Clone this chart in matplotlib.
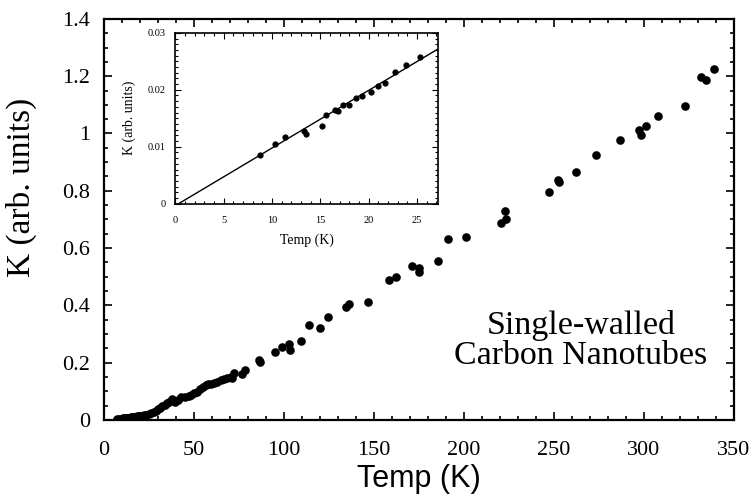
import matplotlib
matplotlib.use("Agg")
import matplotlib.pyplot as plt
from matplotlib.ticker import MultipleLocator

# main data: thermal conductivity vs temperature
temp = [7.5, 8.3, 9.5, 10.5, 11.1, 12.3, 13.0, 13.9, 15.0, 15.8, 16.7, 17.5,
        18.4, 19.4, 20.3, 21.2, 22.2, 23.5, 25.0, 26.3, 27.8, 29.0, 30.0, 31.2,
        32.4, 33.8, 35.2, 36.5, 38.0, 39.8, 41.5, 43.0, 45.0, 47.2, 48.5, 50.0,
        51.5, 53.7, 55.0, 56.5, 58.0, 59.3, 61.0, 63.0, 65.0, 66.7, 68.5, 70.4,
        71.3, 72.2, 76.9, 78.7,
        86.0, 86.5, 95.0, 99.0, 103.0, 103.5, 109.5, 114.0, 120.0, 124.6,
        134.8, 136.1, 146.9,
        158.5, 162.2, 171.0, 174.8, 175.2, 185.7, 191.3, 201.0, 220.6, 223.0,
        223.5, 247.4, 252.0, 253.0, 262.0, 273.3, 286.7, 297.4, 298.3, 301.0,
        308.0, 323.0, 331.5, 334.3, 339.0]
kappa = [0.003, 0.0035, 0.005, 0.0055, 0.0059, 0.007, 0.0075, 0.0084, 0.0095,
         0.010, 0.011, 0.012, 0.0125, 0.0133, 0.014, 0.015, 0.0166, 0.018,
         0.021, 0.024, 0.027, 0.032, 0.038, 0.042, 0.049, 0.053, 0.058, 0.064,
         0.072, 0.062, 0.070, 0.079, 0.081, 0.084, 0.088, 0.093, 0.098, 0.107,
         0.114, 0.122, 0.124, 0.126, 0.130, 0.134, 0.139, 0.143, 0.147, 0.151,
         0.145, 0.165, 0.160, 0.175,
         0.210, 0.203, 0.238, 0.255, 0.265, 0.245, 0.277, 0.330, 0.320, 0.360,
         0.396, 0.405, 0.412,
         0.489, 0.500, 0.538, 0.530, 0.516, 0.556, 0.632, 0.640, 0.687, 0.731,
         0.702, 0.794, 0.838, 0.829, 0.864, 0.924, 0.978, 1.013, 0.995, 1.026,
         1.062, 1.097, 1.197, 1.187, 1.224]

# inset data: low temperature region
temp_low = [8.8, 10.3, 11.3, 13.3, 13.5, 15.2, 15.6, 16.5, 16.8, 17.3, 18.0,
            18.7, 19.3, 20.2, 21.0, 21.7, 22.7, 23.9, 25.3]
kappa_low = [0.0086, 0.0105, 0.0117, 0.0127, 0.0123, 0.0137, 0.0155, 0.0165,
             0.0162, 0.0173, 0.0174, 0.0186, 0.0189, 0.0196, 0.0207, 0.0212,
             0.0231, 0.0243, 0.0258]
fit_t = [0.34, 27.2]
fit_k = [0.0, 0.0272]

serif = "Liberation Serif"
sans = "Liberation Sans"

fig = plt.figure(figsize=(7.52, 4.97), dpi=100)
ax = fig.add_axes([0.138, 0.155, 0.838, 0.807])

ax.plot(temp, kappa, "o", color="black", markersize=6.2, markeredgewidth=0)
ax.set_xlim(0, 350)
ax.set_ylim(0, 1.4)
ax.xaxis.set_major_locator(MultipleLocator(50))
ax.xaxis.set_minor_locator(MultipleLocator(10))
ax.yaxis.set_major_locator(MultipleLocator(0.2))
ax.yaxis.set_minor_locator(MultipleLocator(0.05))
ax.yaxis.set_major_formatter(plt.FuncFormatter(lambda v, p: f"{v:g}"))
ax.tick_params(which="both", direction="in", top=True, right=True, width=1.2)
ax.tick_params(which="major", length=6)
ax.tick_params(which="minor", length=3)
ax.tick_params(axis="x", pad=15)
ax.tick_params(axis="y", pad=10)
for lab in ax.get_xticklabels() + ax.get_yticklabels():
    lab.set_fontfamily(serif)
    lab.set_fontsize(16)
for s in ax.spines.values():
    s.set_linewidth(1.6)

ax.set_xlabel("Temp (K)", fontfamily=sans, fontsize=22, labelpad=3)
ax.set_ylabel("K (arb. units)", fontfamily=serif, fontsize=24)
ax.yaxis.set_label_coords(-0.106, 0.58)

ax.text(265, 0.276, "Single-walled\nCarbon Nanotubes", ha="center", va="center",
        fontfamily=serif, fontsize=24.5, linespacing=0.98)

# inset
ins = fig.add_axes([0.233, 0.590, 0.350, 0.344])
ins.plot(fit_t, fit_k, color="black", linewidth=1.0)
ins.plot(temp_low, kappa_low, "o", color="black", markersize=4.5,
         markeredgewidth=0)
ins.set_xlim(0, 27.2)
ins.set_ylim(0, 0.03)
ins.xaxis.set_major_locator(MultipleLocator(5))
ins.xaxis.set_minor_locator(MultipleLocator(1))
ins.yaxis.set_major_locator(MultipleLocator(0.01))
ins.yaxis.set_minor_locator(MultipleLocator(0.001))
ins.yaxis.set_major_formatter(plt.FuncFormatter(lambda v, p: f"{v:g}"))
ins.tick_params(which="both", direction="in", top=True, right=True, width=0.8)
ins.tick_params(which="major", length=4)
ins.tick_params(which="minor", length=2)
ins.tick_params(axis="x", pad=9)
ins.tick_params(axis="y", pad=7)
for lab in ins.get_xticklabels() + ins.get_yticklabels():
    lab.set_fontfamily(serif)
    lab.set_fontsize(7.5)
for s in ins.spines.values():
    s.set_linewidth(1.2)
ins.set_xlabel("Temp (K)", fontfamily=serif, fontsize=10, labelpad=6)
ins.set_ylabel("K (arb. units)", fontfamily=serif, fontsize=10, labelpad=8)

fig.savefig("out.png", dpi=100)
